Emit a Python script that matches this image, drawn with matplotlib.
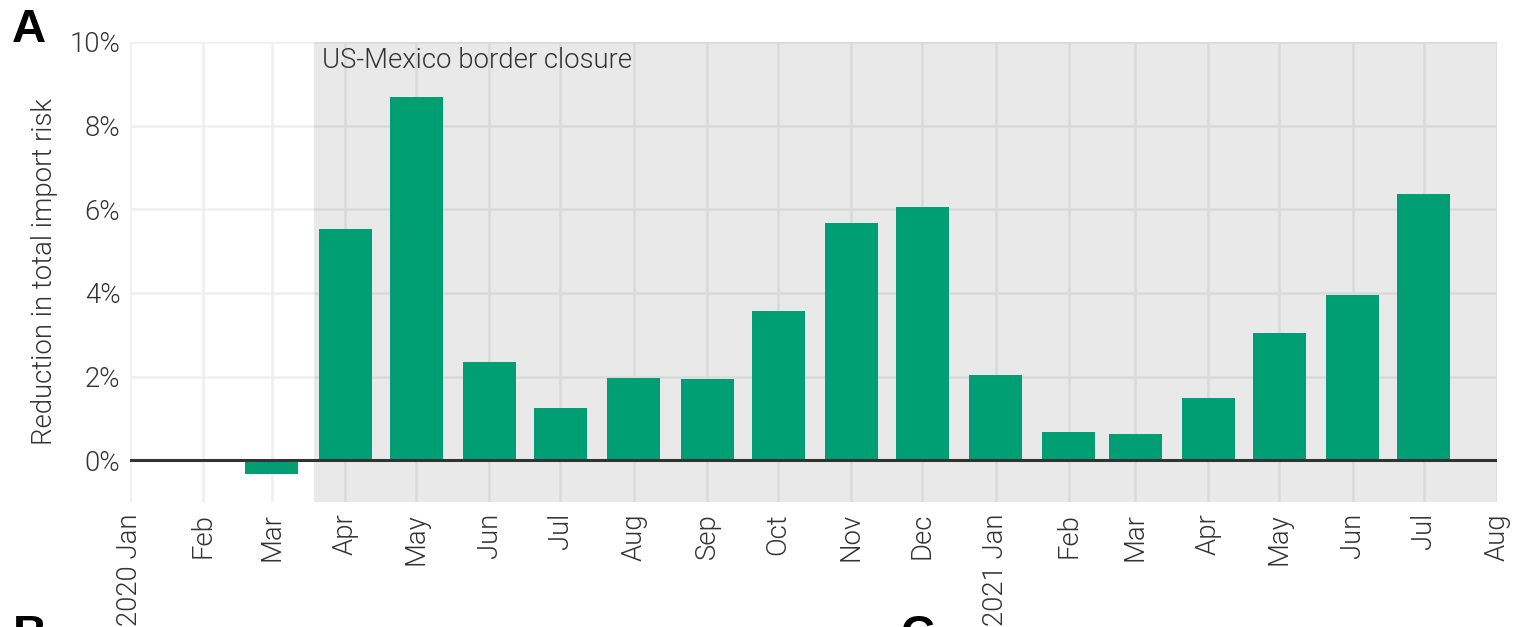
import datetime as dt
import matplotlib
matplotlib.use("Agg")
import matplotlib.pyplot as plt

# monthly reduction in total import risk (%), bars start in Mar 2020
months = ["2020-03", "2020-04", "2020-05", "2020-06", "2020-07", "2020-08",
          "2020-09", "2020-10", "2020-11", "2020-12", "2021-01", "2021-02",
          "2021-03", "2021-04", "2021-05", "2021-06", "2021-07"]
reduction = [-0.33, 5.54, 8.68, 2.34, 1.24, 1.96, 1.93, 3.56, 5.66, 6.06,
             2.03, 0.67, 0.62, 1.48, 3.03, 3.96, 6.37]

closure_start = "2020-03-19"
closure_label = "US-Mexico border closure"
ylabel = "Reduction in total import risk"
yticks = [0, 2, 4, 6, 8, 10]

plt.rcParams['font.family'] = ['Roboto', 'DejaVu Sans']
txt = '#333333'
fs = 19.8
fw = 300

fig = plt.figure(figsize=(15.14, 6.27), dpi=100)
W, H = 1514, 627
ax = fig.add_axes([130 / W, (H - 502) / H, 1367 / W, 460 / H])

dates = [dt.datetime.strptime(m, "%Y-%m") for m in months]
x0 = dt.datetime(2020, 1, 1)
x1 = dt.datetime(2021, 8, 1)

# month ticks
ticks = []
d = x0
while d <= x1:
    ticks.append(d)
    d = dt.datetime(d.year + (d.month // 12), d.month % 12 + 1, 1)
labels = [f"{t.year} {t:%b}" if t.month == 1 else f"{t:%b}" for t in ticks]

ax.set_xlim(x0, x1)
ax.set_ylim(-1, 10)
ax.set_xticks(ticks)
ax.set_xticklabels(labels, rotation=90, fontsize=fs, color=txt, fontweight=fw)
ax.set_yticks(yticks)
ax.set_yticklabels([f"{v}%" for v in yticks], fontsize=fs, color=txt, fontweight=fw)
ax.tick_params(axis='x', length=0, pad=8)
ax.tick_params(axis='y', length=0, pad=7)
for s in ax.spines.values():
    s.set_visible(False)
ax.grid(True, color='#efefef', lw=1.8, zorder=0)
ax.set_axisbelow(True)

cs = dt.datetime.strptime(closure_start, "%Y-%m-%d")
ax.axvspan(cs, x1, color='black', alpha=0.085, lw=0, zorder=1)
ax.text(cs + dt.timedelta(days=3), 9.55, closure_label, fontsize=fs, color=txt,
        fontweight=fw, va='center', ha='left', zorder=3)

ax.bar(dates, reduction, width=22.4, color='#009E73', zorder=2)
ax.axhline(0, color='#333333', lw=2.2, zorder=4)

ax.set_ylabel(ylabel, fontsize=fs, color=txt, fontweight=fw)
ax.yaxis.set_label_coords(-0.053, 0.5)

fig.text(12 / W, 1 - 8 / H, "A", fontsize=34, fontweight='bold',
         family='Liberation Sans', va='top', ha='left')
fig.text(13 / W, 1 - 614 / H, "B", fontsize=34, fontweight='bold',
         family='Liberation Sans', va='top', ha='left')
fig.text(900 / W, 1 - 614 / H, "C", fontsize=34, fontweight='bold',
         family='Liberation Sans', va='top', ha='left')

fig.savefig("out.png", dpi=100)
